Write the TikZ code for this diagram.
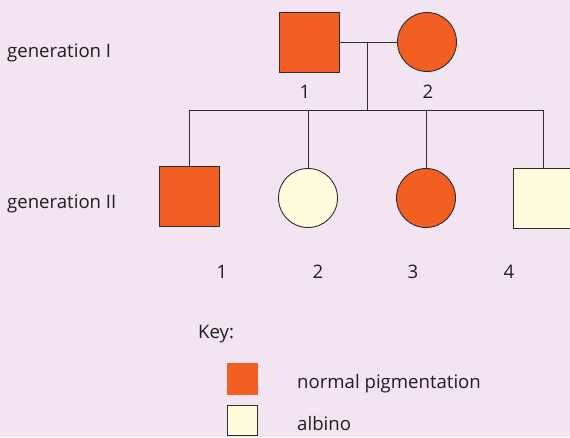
\documentclass[tikz,border=0pt]{standalone}
\usepackage{fontspec}
\setmainfont{Open Sans}
\definecolor{bg}{RGB}{243,228,242}
\definecolor{pig}{RGB}{241,96,34}
\definecolor{alb}{RGB}{255,253,222}
\definecolor{ink}{RGB}{45,45,45}
\definecolor{txt}{RGB}{30,30,30}
\begin{document}
\begin{tikzpicture}[x=1pt,y=-1pt,
  lbl/.style={font=\fontsize{18.6}{22}\selectfont, text=txt, inner sep=0pt},
  male/.style={draw=ink, line width=0.9pt, rectangle, minimum width=60pt, minimum height=60pt, inner sep=0pt},
  female/.style={draw=ink, line width=0.9pt, circle, minimum size=59pt, inner sep=0pt},
  link/.style={draw=ink, line width=0.9pt}]
\useasboundingbox (0,0) rectangle (570,437);
\fill[bg] (0,0) rectangle (570,437);
\clip (0,0) rectangle (570,437);
% generation I
\node[male, fill=pig] (I1) at (309,42) {};
\node[female, fill=pig] (I2) at (427,42) {};
\coordinate (m) at (367,42);
\coordinate (mb) at (367,110);
\draw[link] (I1.east) -- (I2.west);
\draw[link] (m) -- (mb);
\node[lbl, anchor=base] (n1) at (305,98) {1};
\node[lbl, anchor=base] (n2) at (428,98) {2};
% generation II
\node[male, fill=pig] (II1) at (189,196) {};
\node[female, fill=alb] (II2) at (308,198) {};
\node[female, fill=pig] (II3) at (426,198) {};
\node[male, fill=alb] (II4) at (543,198) {};
\draw[link] (II1.north |- mb) -- (II4.north |- mb);
\foreach \c in {II1,II2,II3,II4}{
  \draw[link] (\c.north) -- (\c.north |- mb);
}
\node[lbl, anchor=base] (m1) at (222,278) {1};
\node[lbl, anchor=base] (m2) at (318,278) {2};
\node[lbl, anchor=base] (m3) at (413,278) {3};
\node[lbl, anchor=base] (m4) at (509,278) {4};
% generation labels
\node[lbl, anchor=base west] (g1) at (7,57) {generation I};
\node[lbl, anchor=base west] (g2) at (7,208) {generation II};
% key
\node[lbl, anchor=base west] (key) at (198,338) {Key:};
\node[rectangle, fill=pig, minimum width=31pt, minimum height=32pt, inner sep=0pt] (k1) at (242,379) {};
\node[rectangle, fill=alb, draw=ink, line width=0.9pt, minimum width=30pt, minimum height=30pt, inner sep=0pt] (k2) at (242,420) {};
\node[lbl, anchor=base west] (t1) at (297,388) {normal pigmentation};
\node[lbl, anchor=base west] (t2) at (297,430) {albino};
\end{tikzpicture}
\end{document}
